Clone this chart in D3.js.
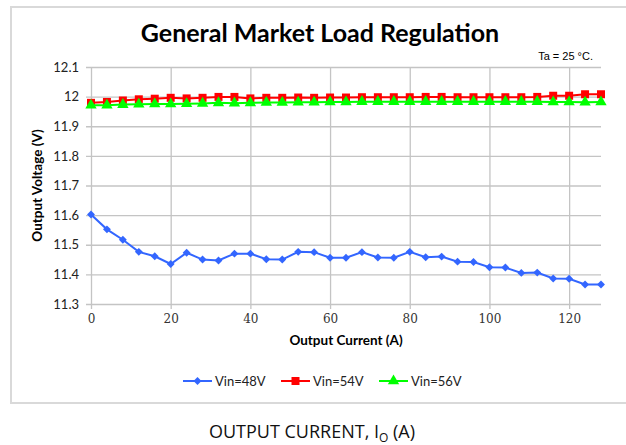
<!DOCTYPE html>
<html>
<head>
<meta charset="utf-8">
<script src="https://cdn.jsdelivr.net/npm/d3@7"></script>
<style>
  body { margin: 0; background: #fff; }
  svg { display: block; }
</style>
</head>
<body>
<div id="chart"></div>
<script>
// ---- data ----
const current = d3.range(0, 129, 4); // 0..128 A, every 4 A
const vin48 = [11.602, 11.552, 11.517, 11.476, 11.461, 11.435, 11.473, 11.450, 11.447, 11.470, 11.470,
  11.451, 11.450, 11.476, 11.475, 11.456, 11.456, 11.475, 11.457, 11.456, 11.476, 11.458, 11.460,
  11.443, 11.442, 11.424, 11.423, 11.405, 11.406, 11.386, 11.385, 11.366, 11.366];
const vin54 = [11.979, 11.982, 11.987, 11.991, 11.993, 11.996, 11.994, 11.996, 11.999, 11.999, 11.994,
  11.996, 11.996, 11.997, 11.996, 11.997, 11.997, 11.998, 11.998, 11.998, 11.998, 11.999, 11.999,
  11.998, 11.998, 11.998, 11.998, 11.998, 11.999, 12.003, 12.003, 12.008, 12.008];
const vin56 = [11.971, 11.971, 11.973, 11.974, 11.975, 11.975, 11.976, 11.977, 11.979, 11.978, 11.979,
  11.980, 11.980, 11.981, 11.981, 11.982, 11.982, 11.983, 11.983, 11.983, 11.983, 11.983, 11.983,
  11.983, 11.983, 11.983, 11.983, 11.983, 11.983, 11.982, 11.982, 11.981, 11.982];
const seriesNames = ["Vin=48V", "Vin=54V", "Vin=56V"];
const xTicks = [0, 20, 40, 60, 80, 100, 120];
const yTicks = [11.3, 11.4, 11.5, 11.6, 11.7, 11.8, 11.9, 12, 12.1];

const W = 626, H = 445;
const margin = { top: 67, right: 25, bottom: 141, left: 91 };

const svg = d3.select("#chart").append("svg")
  .attr("width", W).attr("height", H);

// outer chart frame
svg.append("rect")
  .attr("x", 11).attr("y", 7)
  .attr("width", 630).attr("height", 396)
  .attr("fill", "#fff")
  .attr("stroke", "#d9d9d9").attr("stroke-width", 2);

const x = d3.scaleLinear().domain([0, 128]).range([margin.left, W - margin.right]);
const y = d3.scaleLinear().domain([11.3, 12.1]).range([H - margin.bottom, margin.top]);

const grid = "#c4c4c4";

// horizontal gridlines + y ticks
svg.append("g")
  .attr("transform", `translate(${margin.left},0)`)
  .call(d3.axisLeft(y).tickValues(yTicks).tickSize(-(x.range()[1] - x.range()[0])).tickSizeOuter(0)
    .tickFormat(d => d === 12 ? "12" : d3.format(".1f")(d)))
  .call(g => g.select(".domain").remove())
  .call(g => g.selectAll(".tick line").attr("stroke", grid).attr("stroke-width", 1.3).attr("x1", -5))
  .call(g => g.selectAll(".tick text").attr("x", -12)
    .attr("fill", "#222").style("font-family", "Lato, 'Open Sans', sans-serif").style("font-size", "13px"));

// vertical gridlines + x ticks
svg.append("g")
  .attr("transform", `translate(0,${y(11.3)})`)
  .call(d3.axisBottom(x).tickValues(xTicks).tickSize(-(y(11.3) - y(12.1))).tickSizeOuter(0))
  .call(g => g.select(".domain").remove())
  .call(g => g.selectAll(".tick line").attr("stroke", grid).attr("stroke-width", 1.3).attr("y1", 5))
  .call(g => g.selectAll(".tick text").attr("y", 10)
    .attr("fill", "#333").style("font-family", "'DejaVu Serif', 'Liberation Serif', serif").style("font-size", "12px"));

// series
const colors = ["#3366ff", "#ff0000", "#00ff00"];
const series = [vin48, vin54, vin56].map((vals, i) => ({
  name: seriesNames[i], color: colors[i],
  pts: vals.map((v, j) => [current[j], v])
}));
const symbols = [d3.symbolDiamond2, d3.symbolSquare, d3.symbolTriangle];
const symSizes = [40, 64, 56];

const line = d3.line().x(d => x(d[0])).y(d => y(d[1]));

series.forEach((s, i) => {
  svg.append("path")
    .attr("d", line(s.pts))
    .attr("fill", "none").attr("stroke", s.color).attr("stroke-width", 2);
  svg.append("g").selectAll("path")
    .data(s.pts).join("path")
    .attr("transform", d => `translate(${x(d[0])},${y(d[1])})`)
    .attr("d", d3.symbol(symbols[i], symSizes[i]))
    .attr("fill", s.color);
});

// title and notes
svg.append("text")
  .attr("x", 320).attr("y", 42)
  .attr("text-anchor", "middle")
  .style("font-family", "Lato, 'Open Sans', sans-serif").style("font-weight", "bold").style("font-size", "25px")
  .attr("fill", "#000")
  .text("General Market Load Regulation");

svg.append("text")
  .attr("x", 593).attr("y", 60)
  .attr("text-anchor", "end")
  .style("font-family", "'Liberation Sans', Arial, sans-serif").style("font-size", "11px")
  .text("Ta = 25 \u00B0C.");

svg.append("text")
  .attr("x", (x.range()[0] + x.range()[1]) / 2).attr("y", 345)
  .attr("text-anchor", "middle")
  .style("font-family", "Lato, 'Open Sans', sans-serif").style("font-weight", "bold").style("font-size", "13.5px")
  .text("Output Current (A)");

svg.append("text")
  .attr("transform", `translate(42,${(y(11.3) + y(12.1)) / 2}) rotate(-90)`)
  .attr("text-anchor", "middle")
  .style("font-family", "Lato, 'Open Sans', sans-serif").style("font-weight", "bold").style("font-size", "13.5px")
  .text("Output Voltage (V)");

// legend
const legendX = [183, 281, 379];
const legend = svg.append("g").attr("transform", "translate(0,381)");
series.forEach((s, i) => {
  const g = legend.append("g").attr("transform", `translate(${legendX[i]},0)`);
  g.append("line").attr("x1", 0).attr("x2", 29).attr("stroke", s.color).attr("stroke-width", 2);
  g.append("path").attr("transform", "translate(14.5,0)")
    .attr("d", d3.symbol(symbols[i], symSizes[i])).attr("fill", s.color);
  g.append("text").attr("x", 32).attr("dy", "0.35em")
    .style("font-family", "Lato, 'Open Sans', sans-serif").style("font-size", "13px")
    .attr("fill", "#222")
    .text(s.name);
});

// caption below the chart frame
const cap = svg.append("text")
  .attr("x", 312).attr("y", 438)
  .attr("text-anchor", "middle")
  .style("font-family", "'Open Sans', sans-serif").style("font-size", "18px")
  .attr("fill", "#111");
cap.append("tspan").text("OUTPUT CURRENT, I");
cap.append("tspan").attr("dy", 4).style("font-size", "12px").text("O");
cap.append("tspan").attr("dy", -4).text(" (A)");
</script>
</body>
</html>
